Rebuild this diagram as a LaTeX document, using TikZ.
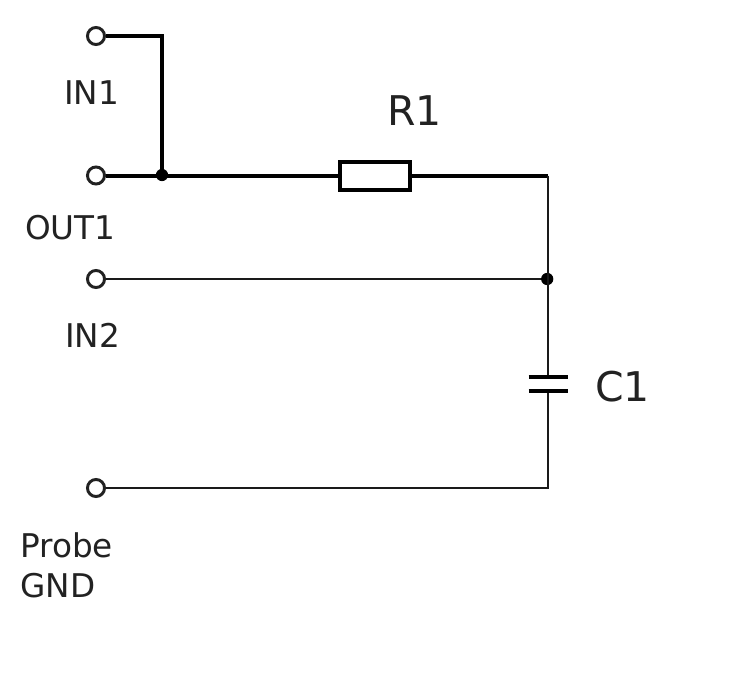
\documentclass[tikz,border=0pt]{standalone}
\usepackage{fontspec}
\setmainfont{DejaVu Sans}
\definecolor{ink}{HTML}{222222}
\definecolor{wire}{HTML}{1A1A1A}
\tikzset{
  term/.style={circle,draw=ink,fill=white,line width=2.2pt,minimum size=12.8pt,inner sep=0pt},
  dot/.style={circle,fill=black,minimum size=9.2pt,inner sep=0pt},
  thick wire/.style={line width=3pt,line join=miter,draw=black},
  thin wire/.style={line width=1.7pt,line join=miter,draw=wire},
  plate/.style={line width=3.6pt,draw=black},
  lab/.style={inner sep=0pt,anchor=base west,text=ink,font=\fontsize{24.5pt}{28pt}\selectfont},
  biglab/.style={inner sep=0pt,anchor=base west,text=ink,font=\fontsize{30.7pt}{34pt}\selectfont},
  resbox/.style={draw=black,fill=white,line width=3pt,minimum width=52.5pt,minimum height=21pt,inner sep=0pt}
}
\begin{document}
\begin{tikzpicture}[x=0.75pt,y=-0.75pt]
\useasboundingbox (0,0) rectangle (743,672);
\fill[white] (0,0) rectangle (743,672);
\coordinate (corner1) at (162,36);
\coordinate (corner2) at (547.7,175.5);
\coordinate (corner3) at (547.7,488);
\coordinate (capt) at (547.7,377);
\coordinate (capb) at (547.7,391);
\coordinate (pt1) at (528.5,377);
\coordinate (pt2) at (567.5,377);
\coordinate (pb1) at (528.5,391);
\coordinate (pb2) at (567.5,391);
\node[term] (in1) at (96,36) {};
\node[term] (out1) at (96,175.5) {};
\node[term] (in2) at (96,279) {};
\node[term] (gnd) at (96,488) {};
\node[dot] (j1) at (162,175) {};
\node[dot] (j2) at (547.2,279) {};
\node[resbox] (r1) at (375,175.5) {};
\draw[thick wire] (in1) -- (corner1) -- (corner1 |- j1);
\draw[thick wire] (out1) -- (r1);
\draw[thick wire] (r1) -- (corner2);
\draw[thin wire] (corner2) -- (capt);
\draw[thin wire] (in2) -- (j2);
\draw[thin wire] (capb) -- (corner3) -- (gnd);
\draw[plate] (pt1) -- (pt2);
\draw[plate] (pb1) -- (pb2);
\node[lab] (l1) at (64,104.5) {IN1};
\node[lab] (l2) at (25,239.5) {OUT1};
\node[lab] (l3) at (65,347.5) {IN2};
\node[lab] (l4) at (20,557.5) {Probe};
\node[lab] (l5) at (20,597.5) {GND};
\node[biglab] (l6) at (387,125.5) {R1};
\node[biglab] (l7) at (595,401.5) {C1};
\end{tikzpicture}
\end{document}
